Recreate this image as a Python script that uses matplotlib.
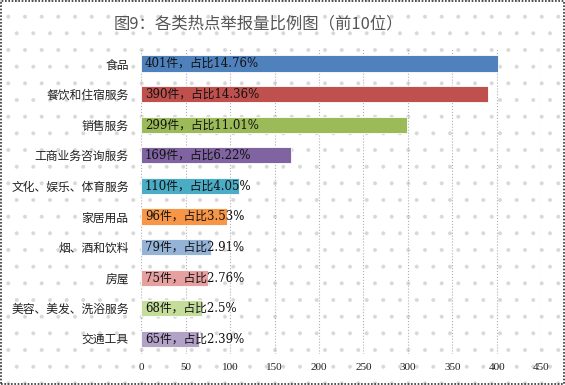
import matplotlib.pyplot as plt
import numpy as np
from matplotlib.patches import Rectangle

plt.rcParams['font.family'] = ['Noto Sans CJK SC', 'DejaVu Sans']
plt.rcParams['hatch.linewidth'] = 0.4

categories = ['食品', '餐饮和住宿服务', '销售服务', '工商业务咨询服务', '文化、娱乐、体育服务',
              '家居用品', '烟、酒和饮料', '房屋', '美容、美发、洗浴服务', '交通工具']
counts = [401, 390, 299, 169, 110, 96, 79, 75, 68, 65]
shares = ['14.76', '14.36', '11.01', '6.22', '4.05', '3.53', '2.91', '2.76', '2.5', '2.39']
colors = ['#4F81BD', '#C0504D', '#9BBB59', '#8064A2', '#4BACC6',
          '#F79646', '#95B3D7', '#E6A0A0', '#C4DD9B', '#B3A2C7']
xticks = [0, 50, 100, 150, 200, 250, 300, 350, 400, 450]

fig = plt.figure(figsize=(5.65, 3.85), dpi=100)
# dotted background + border
bg = Rectangle((0, 0), 1, 1, transform=fig.transFigure, facecolor='white',
               edgecolor='#d8d8d8', hatch='.', lw=0, zorder=-10)
fig.patches.append(bg)
border = Rectangle((0.002, 0.003), 0.996, 0.994, transform=fig.transFigure, fill=False,
                   edgecolor='#333333', lw=1.2, ls=(0, (1, 1)), zorder=10)
fig.patches.append(border)

ax = fig.add_axes([0.250, 0.08, 0.708, 0.795])
ax.set_facecolor('none')
y = np.arange(len(categories))
ax.barh(y, counts, height=0.53, color=colors, edgecolor='white', linewidth=0.6, zorder=3)
for i in range(len(counts)):
    ax.text(4, y[i], f'{counts[i]}件，占比{shares[i]}%', va='center', ha='left',
            fontsize=8.5, color='#111111', zorder=4,
            family=['DejaVu Serif', 'Noto Sans CJK SC'])

ax.set_yticks(y)
ax.set_yticklabels(categories, fontsize=8.5, color='#222222')
ax.set_ylim(len(categories) - 0.5, -0.5)
ax.set_xlim(0, 450)
ax.set_xticks(xticks)
ax.set_xticklabels([str(t) for t in xticks], fontsize=8, color='#222222',
                   family=['Liberation Serif'])
ax.tick_params(length=0, pad=6)
ax.tick_params(axis='y', pad=9)
ax.grid(axis='x', color='#b0b0b0', ls=':', lw=0.8, zorder=0)
for s in ax.spines.values():
    s.set_visible(False)

fig.text(0.457, 0.937, '图9：各类热点举报量比例图（前10位）', ha='center', va='center',
         fontsize=11.8, color='#555555')

fig.savefig('out.png', dpi=100)
